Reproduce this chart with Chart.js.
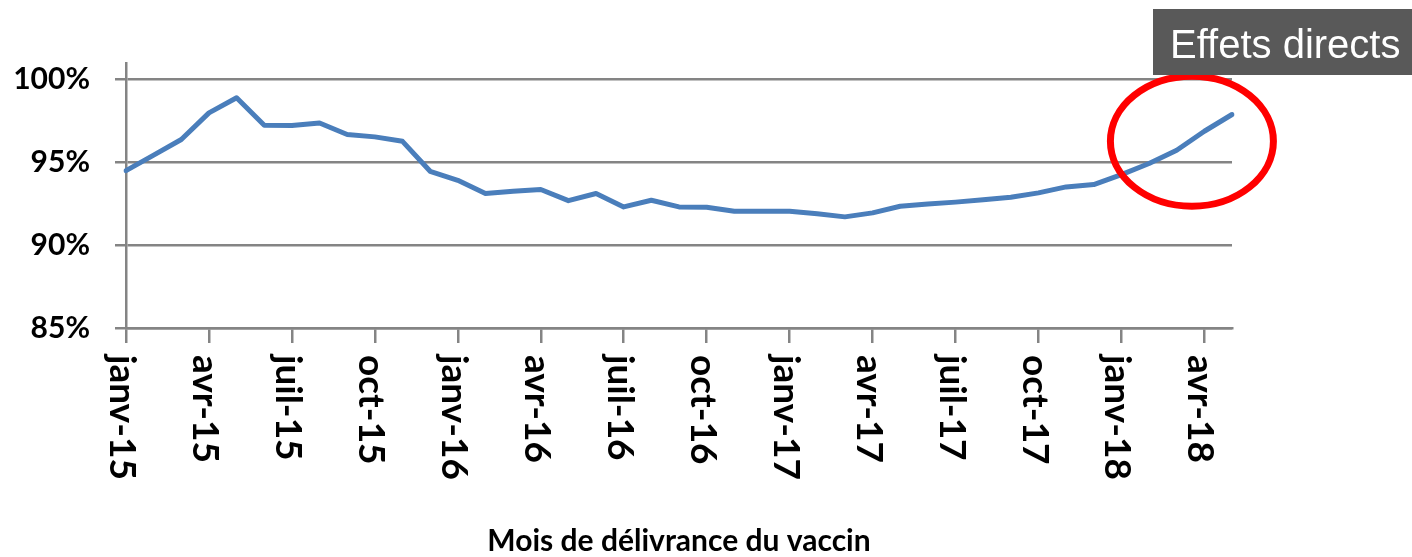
<!DOCTYPE html>
<html>
<head>
<meta charset="utf-8">
<script src="https://cdn.jsdelivr.net/npm/chart.js@4/dist/chart.umd.min.js"></script>
<style>
  html, body { margin: 0; padding: 0; background: #fff; }
  #wrap { width: 1412px; height: 557px; }
</style>
</head>
<body>
<div id="wrap"><canvas id="taux"></canvas></div>
<script>
// month of delivery, janv-15 .. mai-18
const months = [
  'janv-15', 'févr-15', 'mars-15', 'avr-15', 'mai-15', 'juin-15', 'juil-15', 'août-15', 'sept-15', 'oct-15', 'nov-15', 'déc-15',
  'janv-16', 'févr-16', 'mars-16', 'avr-16', 'mai-16', 'juin-16', 'juil-16', 'août-16', 'sept-16', 'oct-16', 'nov-16', 'déc-16',
  'janv-17', 'févr-17', 'mars-17', 'avr-17', 'mai-17', 'juin-17', 'juil-17', 'août-17', 'sept-17', 'oct-17', 'nov-17', 'déc-17',
  'janv-18', 'févr-18', 'mars-18', 'avr-18', 'mai-18'
];

// coverage (%)
const couverture = [
  94.5, 95.44, 96.38, 97.99, 98.9, 97.24, 97.22, 97.38, 96.68, 96.54, 96.27, 94.46,
  93.92, 93.12, 93.25, 93.36, 92.69, 93.12, 92.31, 92.71, 92.31, 92.29, 92.05, 92.05,
  92.05, 91.9, 91.71, 91.95, 92.35, 92.48, 92.6, 92.74, 92.89, 93.16, 93.52, 93.66,
  94.26, 94.93, 95.73, 96.88, 97.89
];

const yTicks = [85, 90, 95, 100];
const xTitle = 'Mois de délivrance du vaccin';
const boxText = 'Effets directs';
// circled zone (month index, %)
const circleAt = [38.55, 96.28];

const grey = '#848484';

// labels of the x axis, rotated clockwise (Chart.js only rotates the other way)
const xLabelsPlugin = {
  id: 'xLabels',
  afterDraw(chart) {
    const ctx = chart.ctx;
    const sx = chart.scales.x;
    ctx.save();
    ctx.font = 'bold 37px Lato';
    ctx.fillStyle = '#000';
    ctx.textAlign = 'left';
    ctx.textBaseline = 'middle';
    sx.ticks.forEach(t => {
      const x = sx.getPixelForValue(t.value);
      ctx.save();
      ctx.translate(x - 4, chart.chartArea.bottom + 27);
      ctx.rotate(Math.PI / 2);
      ctx.fillText(months[t.value], 0, 0);
      ctx.restore();
    });
    ctx.restore();
  }
};

// red circle + grey box
const notesPlugin = {
  id: 'notes',
  afterDraw(chart) {
    const ctx = chart.ctx;
    const cx = chart.scales.x.getPixelForValue(circleAt[0]);
    const cy = chart.scales.y.getPixelForValue(circleAt[1]);
    ctx.save();
    ctx.strokeStyle = '#ff0000';
    ctx.lineWidth = 7;
    ctx.beginPath();
    ctx.ellipse(cx, cy, 81.5, 65, 0, 0, Math.PI * 2);
    ctx.stroke();

    ctx.fillStyle = '#595959';
    ctx.fillRect(1153, 9, 259, 66);
    ctx.fillStyle = '#fff';
    ctx.font = '40px "Liberation Sans"';
    ctx.textAlign = 'left';
    ctx.textBaseline = 'alphabetic';
    ctx.fillText(boxText, 1170, 58);
    ctx.restore();
  }
};

Chart.defaults.font.family = 'Lato';
Chart.defaults.color = '#000';

new Chart(document.getElementById('taux'), {
  type: 'line',
  data: {
    labels: months,
    datasets: [{
      data: couverture,
      borderColor: '#4a7ebb',
      borderWidth: 5,
      borderJoinStyle: 'round',
      borderCapStyle: 'round',
      pointRadius: 0,
      tension: 0,
      fill: false
    }]
  },
  options: {
    responsive: true,
    maintainAspectRatio: false,
    animation: false,
    layout: { padding: { top: 63, right: 180, bottom: 0, left: 0 } },
    plugins: {
      legend: { display: false },
      tooltip: { enabled: false }
    },
    scales: {
      x: {
        type: 'category',
        offset: false,
        afterBuildTicks(scale) {
          scale.ticks = scale.ticks.filter(t => t.value % 3 === 0);
        },
        afterFit(scale) { scale.height = 229; },
        grid: {
          drawOnChartArea: false,
          drawTicks: true,
          tickLength: 15,
          color: grey,
          lineWidth: 2.5
        },
        border: { display: true, color: grey, width: 2.5 },
        ticks: { display: false, autoSkip: false },
        title: {
          display: true,
          text: xTitle,
          font: { size: 30, weight: 'bold', lineHeight: 1 },
          padding: { top: 0, bottom: 1 }
        }
      },
      y: {
        min: 85,
        max: 101,
        afterBuildTicks(scale) {
          scale.ticks = yTicks.map(v => ({ value: v }));
        },
        afterFit(scale) { scale.width = 126; },
        grid: { color: grey, lineWidth: 2.5, tickLength: 11 },
        border: { display: true, color: grey, width: 2.5 },
        ticks: {
          padding: 25,
          font: { size: 30, weight: 'bold' },
          callback: v => v + '%'
        }
      }
    }
  },
  plugins: [xLabelsPlugin, notesPlugin]
});
</script>
</body>
</html>
